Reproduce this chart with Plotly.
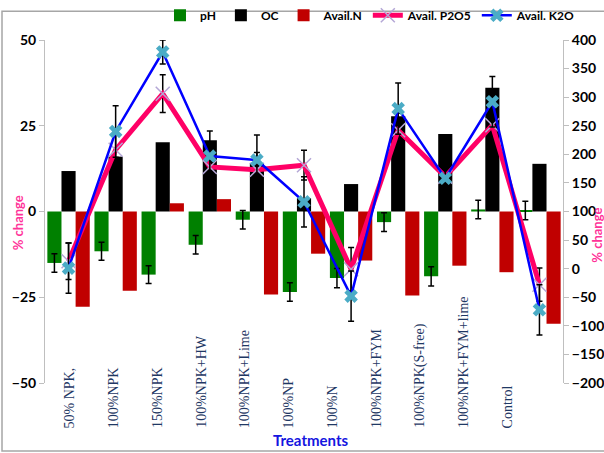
import plotly.graph_objects as go

categories = ["50% NPK,", "100%NPK", "150%NPK", "100%NPK+HW", "100%NPK+Lime",
              "100%NP", "100%N", "100%NPK+FYM", "100%NPK(S-free)",
              "100%NPK+FYM+lime", "Control"]
ph = [-15.0, -11.6, -18.4, -9.7, -2.4, -23.5, -19.4, -3.1, -18.9, 0.6, 0.3]
ph_err = [2.7, 2.6, 2.6, 2.7, 2.7, 2.7, 2.8, 2.7, 2.8, 2.7, 2.7]
oc = [11.8, 16.0, 20.2, 20.8, 14.1, 3.9, 8.0, 27.8, 22.6, 36.1, 13.9]
avail_n = [-27.8, -23.1, 2.4, 3.6, -24.2, -12.3, -14.3, -24.5, -15.8, -17.7, -32.7]
p2o5 = [13, 208, 306, 178, 173, 181, -1, 242, 161, 251, -28]
p2o5_err = [32, 30, 33, 30, 30, 26, 38, 30, 30, 30, 29]
k2o = [1, 240, 379, 197, 190, 117, -48, 280, 158, 292, -72]
k2o_err = [44, 45, 21, 44, 44, 44, 44, 45, 44, 44, 44]
left_ticks = [-50, -25, 0, 25, 50]
right_ticks = [-200, -150, -100, -50, 0, 50, 100, 150, 200, 250, 300, 350, 400]

BOLD = "Lato, Open Sans, Arial"
err_style = dict(type="data", color="black", thickness=1.5, width=3)

fig = go.Figure()
fig.add_bar(x=categories, y=ph, name="pH", marker=dict(color="#008000", line=dict(width=0)),
            error_y=dict(array=ph_err, **err_style))
fig.add_bar(x=categories, y=oc, name="OC", marker=dict(color="#000000", line=dict(width=0)))
fig.add_bar(x=categories, y=avail_n, name="Avail.N", marker=dict(color="#C00000", line=dict(width=0)))
fig.add_scatter(x=categories, y=p2o5, yaxis="y2", name="Avail. P2O5", mode="lines+markers",
                line=dict(color="#FF0066", width=5),
                marker=dict(symbol="x-thin", size=14, color="#B4A7D6", line=dict(color="#B4A7D6", width=1.5)),
                error_y=dict(array=p2o5_err, **err_style))
fig.add_scatter(x=categories, y=k2o, yaxis="y2", name="Avail. K2O", mode="lines+markers",
                line=dict(color="#0000FF", width=2.5),
                marker=dict(symbol="x", size=12, color="#4BACC6"),
                error_y=dict(array=k2o_err, **err_style))

axis_style = dict(showgrid=False, zeroline=False, showline=True, linecolor="#BFBFBF", linewidth=1,
                  ticks="outside", ticklen=5, tickcolor="#BFBFBF",
                  tickfont=dict(family=BOLD, size=14, color="black", weight="bold"))

annotations = []
label_x0, label_step = 0.03, 0.93
for i, lab in enumerate(categories):
    annotations.append(dict(x=label_x0 + i * label_step, xref="x", y=-0.137, yref="paper",
                            text=lab, textangle=-90, xanchor="center", yanchor="bottom",
                            showarrow=False,
                            font=dict(family="Liberation Serif, Times New Roman", size=14, color="#1F3864")))
annotations.append(dict(x=0.512, y=-0.166, xref="paper", yref="paper", text="Treatments",
                        showarrow=False, xanchor="center", yanchor="middle",
                        font=dict(family=BOLD, size=15, color="#1515E0", weight="bold")))
annotations.append(dict(x=-0.052, y=0.466, xref="paper", yref="paper", text="% change",
                        textangle=-90, showarrow=False, xanchor="center", yanchor="middle",
                        font=dict(family=BOLD, size=13, color="#FF3399", weight="bold")))
annotations.append(dict(x=1.064, y=0.43, xref="paper", yref="paper", text="% change",
                        textangle=-90, showarrow=False, xanchor="center", yanchor="middle",
                        font=dict(family=BOLD, size=13, color="#FF3399", weight="bold")))

fig.update_layout(
    width=604, height=453,
    margin=dict(l=45, r=41, t=40, b=70, autoexpand=False),
    paper_bgcolor="white", plot_bgcolor="white",
    barmode="group", bargap=0.1, bargroupgap=0,
    xaxis=dict(type="category", showticklabels=False, showline=False, ticks="",
               showgrid=False, zeroline=False, range=[-0.5, 10.5]),
    yaxis=dict(range=[-50, 50], tickvals=left_ticks, **axis_style),
    yaxis2=dict(range=[-200, 400], tickvals=right_ticks, overlaying="y", side="right", **axis_style),
    legend=dict(orientation="h", x=0.222, y=1.072, xanchor="left", yanchor="middle",
                itemwidth=30, font=dict(family=BOLD, size=12, color="black", weight="bold"),
                bgcolor="rgba(0,0,0,0)", tracegroupgap=0),
    annotations=annotations,
    shapes=[dict(type="rect", xref="paper", yref="paper", x0=-0.083, x1=1.2, y0=-0.198, y1=1.0836,
                 line=dict(color="#A6A6A6", width=1.5))],
    showlegend=True,
)

fig.write_html("out.html", config={"displayModeBar": False},
               post_script="document.body.style.margin='0';document.body.style.overflow='hidden';")
